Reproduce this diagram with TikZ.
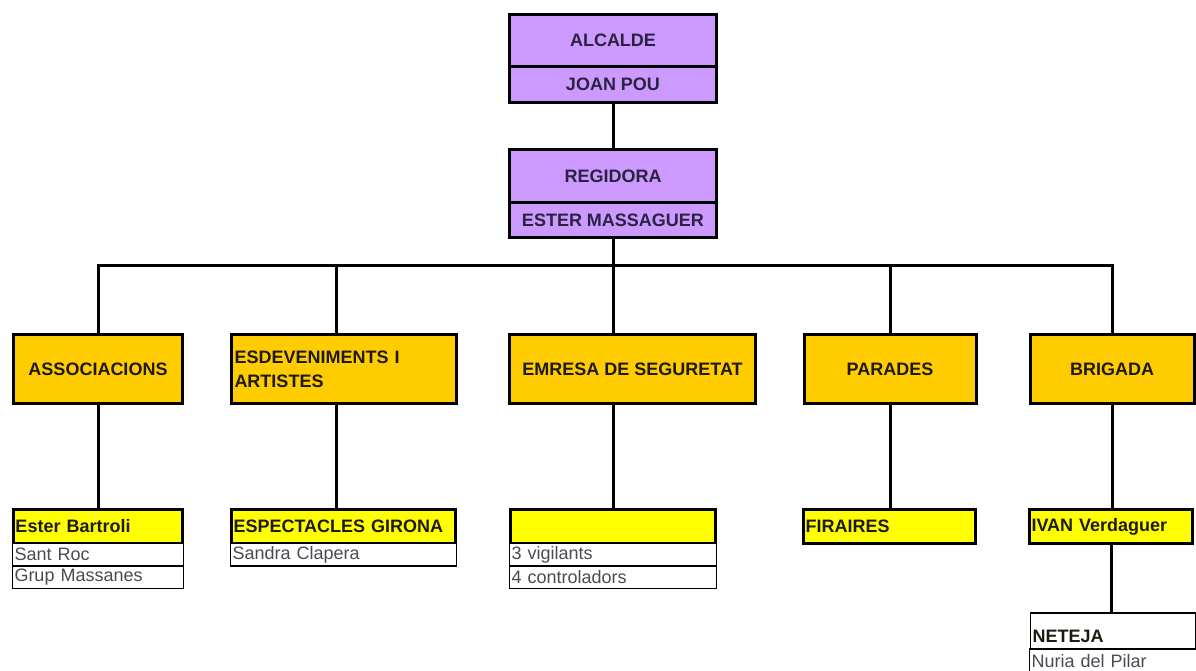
\documentclass[tikz,border=0pt]{standalone}
\usepackage{fontspec}
\setmainfont{Liberation Sans}
\definecolor{lila}{HTML}{CC99FF}
\definecolor{taronja}{HTML}{FFCC00}
\definecolor{groc}{HTML}{FFFF00}
\definecolor{tinta}{HTML}{2A2340}
\definecolor{fosc}{HTML}{1E1A10}
\definecolor{gris}{HTML}{4A4A55}
\begin{document}
\begin{tikzpicture}[x=1pt,y=-1pt,
  every node/.style={inner sep=0pt, outer sep=0pt, font=\fontsize{18}{24}\selectfont},
  carrec/.style={draw, line width=3pt, fill=lila, minimum width=207pt, text=tinta,
    font=\fontsize{18}{24}\selectfont\bfseries, anchor=north},
  area/.style={draw, line width=3pt, fill=taronja, minimum height=69pt, text=fosc,
    font=\fontsize{18}{24}\selectfont\bfseries, anchor=north},
  capbox/.style={draw, line width=3pt, fill=groc, minimum height=34pt, text=fosc,
    inner xsep=2pt, align=left, font=\fontsize{18}{22}\selectfont\bfseries, anchor=north},
  fila/.style={draw, line width=1.2pt, fill=white, minimum height=22.5pt, text=gris,
    inner xsep=2pt, align=left, anchor=north},
  enllac/.style={draw, line width=3pt}]
\useasboundingbox (0,0) rectangle (1196,670);

\node[carrec, minimum height=52pt] (alcalde) at (613,14.5) {ALCALDE};
\node[carrec, minimum height=36pt] (joan) at (alcalde.south) {JOAN POU};
\node[carrec, minimum height=53pt] (regidora) at (613,149.5) {REGIDORA};
\node[carrec, minimum height=35pt] (ester) at (regidora.south) {ESTER MASSAGUER};

\node[area, minimum width=169pt] (assoc) at (98,334.5) {ASSOCIACIONS};
\node[area, text width=219pt, inner xsep=3pt, align=left] (esdev) at (344,334.5)
  {ESDEVENIMENTS I\\ARTISTES\\[3pt]};
\node[area, minimum width=246pt] (emresa) at (632.5,334.5) {EMRESA DE SEGURETAT};
\node[area, minimum width=172pt] (parades) at (890,334.5) {PARADES};
\node[area, minimum width=164pt] (brigada) at (1112,334.5) {BRIGADA};

\node[capbox, text width=165pt] (bartroli) at (98,509.5) {Ester Bartroli};
\node[fila, text width=167pt] (santroc) at (bartroli.south) {Sant Roc};
\node[fila, text width=167pt] (massanes) at (santroc.south) {Grup Massanes};
\node[capbox, text width=220pt] (espect) at (343.5,509.5) {ESPECTACLES GIRONA};
\node[fila, text width=222pt] (clapera) at (espect.south) {Sandra Clapera};
\node[capbox, text width=201pt] (buida) at (613,509.5) {};
\node[fila, text width=203pt] (vigilants) at (buida.south) {3 vigilants};
\node[fila, text width=203pt] (control) at (vigilants.south) {4 controladors};
\node[capbox, text width=168pt] (firaires) at (889.5,509.5) {FIRAIRES};
\node[capbox, text width=159pt] (ivan) at (1111,509.5) {IVAN Verdaguer};

\node[draw, line width=1.5pt, fill=white, anchor=north, text width=161pt, align=left,
  inner sep=2pt, text height=27pt, text depth=5pt, text=fosc,
  font=\fontsize{18}{22}\selectfont\bfseries] (neteja) at (1113,613) {NETEJA};
\node[fila, text width=163pt, minimum height=24pt] (nuria) at (neteja.south) {Nuria del Pilar};

\coordinate (bus) at (613,265);
\draw[enllac] (joan.south) -- (regidora.north);
\draw[enllac] (ester.south) -- (bus);
\foreach \a in {assoc,parades,brigada}
  \draw[enllac] (\a.north) |- (bus);
\draw[enllac] ([xshift=-8pt]esdev.north) |- (bus);
\draw[enllac] (buida.north |- emresa.north) -- (bus);
\foreach \a/\b in {assoc/bartroli,parades/firaires,brigada/ivan}
  \draw[enllac] (\a.south) -- (\a.south |- \b.north);
\draw[enllac] ([xshift=-8pt]esdev.south) -- ([xshift=-8pt]esdev.south |- espect.north);
\draw[enllac] (buida.north |- emresa.south) -- (buida.north);
\draw[enllac] (ivan.south) -- (ivan.south |- neteja.north);
\end{tikzpicture}
\end{document}
